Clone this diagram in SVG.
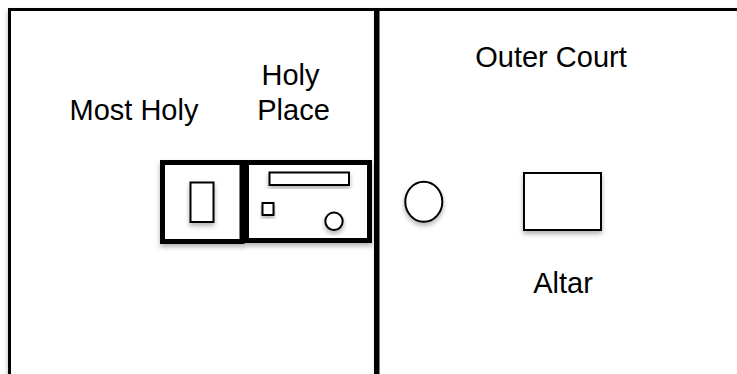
<svg xmlns="http://www.w3.org/2000/svg" width="737" height="374" viewBox="0 0 737 374">
  <defs>
    <filter id="sh" x="-20%" y="-20%" width="140%" height="150%">
      <feDropShadow dx="0" dy="3" stdDeviation="2.5" flood-color="#000" flood-opacity="0.3"/>
    </filter>
    <style>
      .frame { fill: #fff; stroke: #000; stroke-width: 3; filter: url(#sh); }
      .room { fill: #fff; stroke: #000; stroke-width: 5; filter: url(#sh); }
      .item { fill: #fff; stroke: #000; stroke-width: 2; filter: url(#sh); }
      .lbl { font-family: "Liberation Sans", Arial, Helvetica, sans-serif; font-size: 29px; fill: #000; text-anchor: middle; }
    </style>
  </defs>
  <rect x="0" y="0" width="737" height="374" fill="#fff"/>

  <g id="tabernacle-court">
    <rect class="frame" x="9.5" y="9.5" width="366" height="380"/>
  </g>
  <g id="outer-court">
    <rect class="frame" x="378" y="9.5" width="362" height="380"/>
    <text class="lbl" x="551" y="67">Outer Court</text>
  </g>

  <g id="most-holy">
    <rect class="room" x="162.5" y="162.5" width="79.5" height="79"/>
    <text class="lbl" x="134" y="120">Most Holy</text>
  </g>
  <g id="holy-place">
    <rect class="room" x="246.5" y="162.5" width="123" height="78"/>
    <text class="lbl" x="290.5" y="85">Holy</text>
    <text class="lbl" x="293.5" y="120">Place</text>
  </g>

  <g id="ark">
    <rect class="item" x="190.5" y="182.5" width="23" height="39.5"/>
  </g>
  <g id="table">
    <rect class="item" x="269.5" y="172.5" width="79.5" height="12.5"/>
  </g>
  <g id="incense">
    <rect class="item" x="262.5" y="203" width="11" height="12"/>
  </g>
  <g id="lampstand">
    <circle class="item" cx="334" cy="221.3" r="8.7"/>
  </g>
  <g id="laver">
    <ellipse class="item" cx="423.8" cy="201.7" rx="18.5" ry="20"/>
  </g>
  <g id="altar">
    <rect class="item" x="524" y="173" width="77" height="57"/>
    <text class="lbl" x="563" y="293">Altar</text>
  </g>

  <g id="connectors"/>
</svg>
